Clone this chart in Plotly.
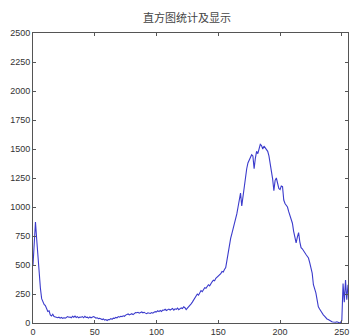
import plotly.graph_objects as go

gray_levels = list(range(256))
counts = [
    500, 690, 870, 720, 570, 400, 300, 210, 175, 160,
    150, 120, 100, 105, 70, 60, 75, 55, 50, 52,
    45, 50, 42, 48, 40, 45, 42, 48, 55, 50,
    52, 45, 58, 50, 60, 48, 55, 45, 52, 50,
    55, 45, 58, 48, 50, 42, 52, 45, 48, 55,
    50, 42, 45, 38, 40, 35, 30, 35, 25, 30,
    22, 30, 28, 38, 32, 42, 40, 48, 45, 55,
    50, 58, 55, 62, 58, 68, 72, 78, 70, 75,
    80, 72, 85, 90, 88, 92, 85, 90, 95, 88,
    92, 85, 80, 88, 84, 82, 90, 85, 92, 98,
    95, 105, 98, 108, 100, 112, 110, 118, 108, 115,
    120, 112, 118, 125, 110, 122, 118, 128, 115, 122,
    130, 125, 140, 132, 115, 128, 140, 145, 165, 180,
    195, 210, 225, 250, 240, 265, 280, 270, 295, 305,
    300, 315, 330, 320, 345, 355, 370, 365, 385, 395,
    400, 412, 425, 445, 440, 462, 478, 540, 610, 680,
    730, 770, 810, 850, 890, 940, 1000, 1060, 1120, 1010,
    1100, 1200, 1290, 1330, 1380, 1405, 1430, 1450, 1440, 1330,
    1420, 1480, 1460, 1510, 1540, 1530, 1500, 1525, 1510, 1490,
    1480, 1440, 1380, 1320, 1240, 1140, 1230, 1250, 1200, 1160,
    1150, 1180, 1175, 1060, 1030, 1010, 1000, 960, 920, 880,
    860, 790, 720, 690, 740, 780, 700, 650, 640, 620,
    600, 590, 575, 560, 520, 485, 430, 330, 300, 260,
    200, 140, 120, 100, 85, 70, 60, 45, 35, 30,
    22, 15, 11, 8, 5, 6, 10, 4, 2, 5,
    20, 340, 180, 370, 200, 330,
]

x_ticks = [0, 50, 100, 150, 200, 250]
y_ticks = [0, 250, 500, 750, 1000, 1250, 1500, 1750, 2000, 2250, 2500]

fig = go.Figure()
fig.add_trace(go.Scatter(
    x=gray_levels, y=counts, mode="lines",
    line=dict(color="#3b3bcc", width=1.1),
    showlegend=False, hoverinfo="skip",
))

axis_common = dict(
    showgrid=False, zeroline=False, showline=True, linecolor="#555555", linewidth=1,
    mirror="ticks", ticks="inside", ticklen=3, tickcolor="#555555", automargin=False,
    tickfont=dict(family="Liberation Sans", size=9, color="#333333"),
)

W, H = 350, 336
fig.update_layout(
    width=W, height=H,
    margin=dict(l=33, r=2, t=33, b=13, autoexpand=False),
    paper_bgcolor="white", plot_bgcolor="white",
    title=dict(text="直方图统计及显示", x=187 / W, xref="container", xanchor="center",
               y=1 - 18 / H, yref="container", yanchor="middle", automargin=False,
               font=dict(family="Noto Sans CJK SC", size=11, color="#444444")),
    xaxis=dict(range=[0, 255], tickvals=x_ticks, **axis_common),
    yaxis=dict(range=[0, 2500], tickvals=y_ticks, **axis_common),
)

fig.write_html(
    "out.html",
    config={"displayModeBar": False},
    post_script="document.body.style.margin='0';document.body.style.overflow='hidden';",
)
